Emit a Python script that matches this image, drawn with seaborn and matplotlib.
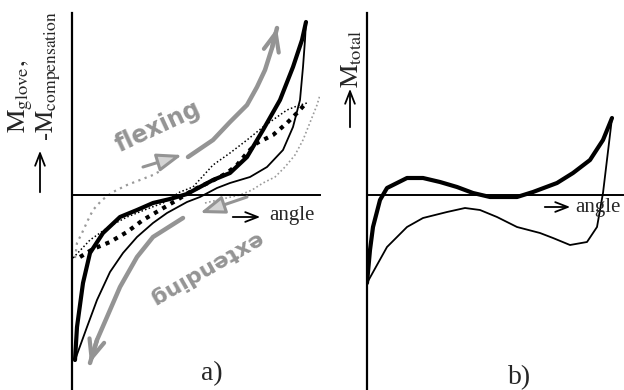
import matplotlib
matplotlib.use("Agg")
import pandas as pd
import seaborn as sns
import matplotlib.pyplot as plt

# values: angle and moment in picture units,
# origin at the crossing of the axes

# a) glove loop (thick = flexing, thin = extending)
glove_up_angle = [3, 5, 11, 18, 31, 48, 65, 81, 98, 115, 141, 158, 175, 191, 208, 221, 230, 234]
glove_up_m = [-165, -132, -88, -58, -38, -22, -15, -8, -4, 1, 15, 22, 38, 65, 95, 128, 155, 173]
glove_down_angle = [3, 15, 25, 38, 51, 65, 81, 95, 115, 128, 145, 158, 178, 195, 211, 221, 228, 231, 233, 234]
glove_down_m = [-165, -132, -105, -77, -58, -42, -28, -18, -7, -2, 7, 12, 18, 28, 45, 68, 95, 128, 155, 173]

# a) compensation curves (dotted)
comp_thick_angle = [8, 21, 38, 55, 71, 88, 105, 121, 138, 155, 165, 175, 185, 201, 215, 225, 235]
comp_thick_m = [-62, -54, -47, -37, -25, -15, -5, 5, 13, 22, 30, 42, 52, 60, 72, 82, 93]
comp_thin_angle = [1, 18, 38, 55, 75, 91, 108, 121, 141, 158, 175, 191, 205, 215, 225, 235]
comp_thin_m = [-63, -45, -31, -22, -14, -8, 3, 8, 30, 42, 55, 68, 78, 85, 89, 92]
comp_grey1_angle = [3, 5, 10, 16, 21, 30, 41, 55, 68, 81, 90]
comp_grey1_m = [-63, -48, -38, -25, -15, -5, 3, 10, 15, 20, 25]
comp_grey2_angle = [133, 150, 168, 180, 191, 203, 213, 223, 231, 237, 241, 245, 248]
comp_grey2_m = [-8, -4, 0, 5, 12, 18, 28, 40, 55, 70, 80, 90, 100]

# a) direction arrows
flex_angle = [116, 141, 158, 175, 185, 193, 200, 205]
flex_m = [38, 55, 73, 90, 108, 125, 147, 167]
flex_short_angle = [71, 110]
flex_short_m = [28, 40]
ext_angle = [111, 81, 65, 48, 35, 25, 18]
ext_m = [-23, -42, -62, -92, -122, -145, -168]
ext_short_angle = [175, 128]
ext_short_m = [-2, -18]

# b) total moment loop
total_up_angle = [0, 3, 6, 13, 20, 40, 56, 73, 90, 106, 123, 150, 166, 190, 206, 223, 236, 245]
total_up_m = [-88, -55, -32, -5, 7, 17, 17, 13, 8, 2, -2, -2, 3, 12, 22, 35, 55, 77]
total_down_angle = [245, 236, 230, 220, 203, 186, 173, 150, 130, 113, 98, 80, 56, 40, 20, 0]
total_down_m = [77, 2, -32, -47, -50, -43, -38, -32, -22, -15, -13, -17, -23, -32, -52, -88]

sns.set_style("white")
plt.rcParams["font.family"] = ["Liberation Serif", "DejaVu Serif"]
plt.rcParams["mathtext.fontset"] = "stix"

W, H = 624, 390
fig = plt.figure(figsize=(6.24, 3.9), dpi=100)


def fpos(x, y):
    return x / W, 1 - y / H


ax_a = fig.add_axes([72 / W, 0, 248 / W, 377 / H])
ax_b = fig.add_axes([367 / W, 0, 256 / W, 377 / H])
ax_a.set_xlim(0, 248)
ax_b.set_xlim(0, 256)
for ax in (ax_a, ax_b):
    ax.set_ylim(-195, 182)
    ax.patch.set_alpha(0)
    ax.set_xticks([])
    ax.set_yticks([])
    for s in ("top", "right"):
        ax.spines[s].set_visible(False)
    ax.spines["bottom"].set_position(("data", 0))
    ax.spines["left"].set_linewidth(1.6)
    ax.spines["bottom"].set_linewidth(1.4)
    ax.spines["left"].set_color("black")
    ax.spines["bottom"].set_color("black")


def curve(ax, xs, ys, **kw):
    df = pd.DataFrame({"angle": xs, "moment": ys})
    sns.lineplot(data=df, x="angle", y="moment", sort=False, estimator=None, ax=ax, **kw)


grey = "#949494"

# panel a
curve(ax_a, comp_grey1_angle, comp_grey1_m, color="#9a9a9a", lw=1.6, ls=(0, (1, 2)))
curve(ax_a, comp_grey2_angle, comp_grey2_m, color="#9a9a9a", lw=1.2, ls=(0, (1, 1.5)))
curve(ax_a, comp_thin_angle, comp_thin_m, color="black", lw=1.1, ls=(0, (1, 1.5)))
curve(ax_a, comp_thick_angle, comp_thick_m, color="black", lw=3.0, ls=(0, (1, 1.3)))
curve(ax_a, glove_down_angle, glove_down_m, color="black", lw=1.3, ls="-")
curve(ax_a, glove_up_angle, glove_up_m, color="black", lw=3.0, ls="-")

for xs, ys in ((flex_angle, flex_m), (ext_angle, ext_m)):
    curve(ax_a, xs, ys, color=grey, lw=3.2, ls="-", solid_capstyle="round", zorder=6)
    ax_a.annotate("", xy=(xs[-1], ys[-1]), xytext=(xs[-2], ys[-2]),
                  arrowprops=dict(arrowstyle="->,head_length=1.3,head_width=0.55",
                                  color=grey, lw=3.0, shrinkA=0, shrinkB=0), zorder=6)
for xs, ys in ((flex_short_angle, flex_short_m), (ext_short_angle, ext_short_m)):
    ax_a.annotate("", xy=(xs[1], ys[1]), xytext=(xs[0], ys[0]),
                  arrowprops=dict(arrowstyle="-|>,head_length=1.5,head_width=0.55",
                                  color=grey, fc="#d4d4d4", lw=2.2, shrinkA=0, shrinkB=0), zorder=6)

ax_a.text(86, 68, "flexing", rotation=25, rotation_mode="anchor", ha="center", va="center",
          fontsize=17, fontweight="bold", color=grey, family="DejaVu Sans")
ax_a.text(133, -73, "extending", rotation=210, rotation_mode="anchor", ha="center", va="center",
          fontsize=16, fontweight="bold", color=grey, family="DejaVu Sans")

ax_a.annotate("", xy=(191, -22), xytext=(158, -22),
              arrowprops=dict(arrowstyle="->,head_length=0.9,head_width=0.35", color="black", lw=1.3))
ax_a.text(197, -20, "angle", ha="left", va="center", fontsize=15)
ax_a.text(140, -179, "a)", ha="center", va="center", fontsize=20)

# panel b
curve(ax_b, total_down_angle, total_down_m, color="black", lw=1.3, ls="-")
curve(ax_b, total_up_angle, total_up_m, color="black", lw=3.0, ls="-")
ax_b.annotate("", xy=(206, -12), xytext=(175, -12),
              arrowprops=dict(arrowstyle="->,head_length=0.9,head_width=0.35", color="black", lw=1.3))
ax_b.text(208, -12, "angle", ha="left", va="center", fontsize=15, clip_on=False)
ax_b.text(153, -183, "b)", ha="center", va="center", fontsize=20)

for ax in (ax_a, ax_b):
    ax.set_xlabel("")
    ax.set_ylabel("")
    if ax.get_legend():
        ax.get_legend().remove()

# y labels with upward arrows
fig.text(*fpos(21, 133), r"$\mathrm{M_{glove}},$", rotation=90, ha="center", va="bottom", fontsize=19)
fig.text(*fpos(49, 141), r"$\mathrm{\text{-}M_{compensation}}$", rotation=90, ha="center", va="bottom", fontsize=18)
fig.text(*fpos(352, 88), r"$\mathrm{M_{total}}$", rotation=90, ha="center", va="bottom", fontsize=19)
for x, y0, y1 in ((40, 195, 148), (350, 130, 86)):
    ax_a.annotate("", xy=fpos(x, y1), xytext=fpos(x, y0), xycoords="figure fraction",
                  textcoords="figure fraction",
                  arrowprops=dict(arrowstyle="->,head_length=0.9,head_width=0.35", color="black", lw=1.3))

fig.savefig("out.png", dpi=100)
